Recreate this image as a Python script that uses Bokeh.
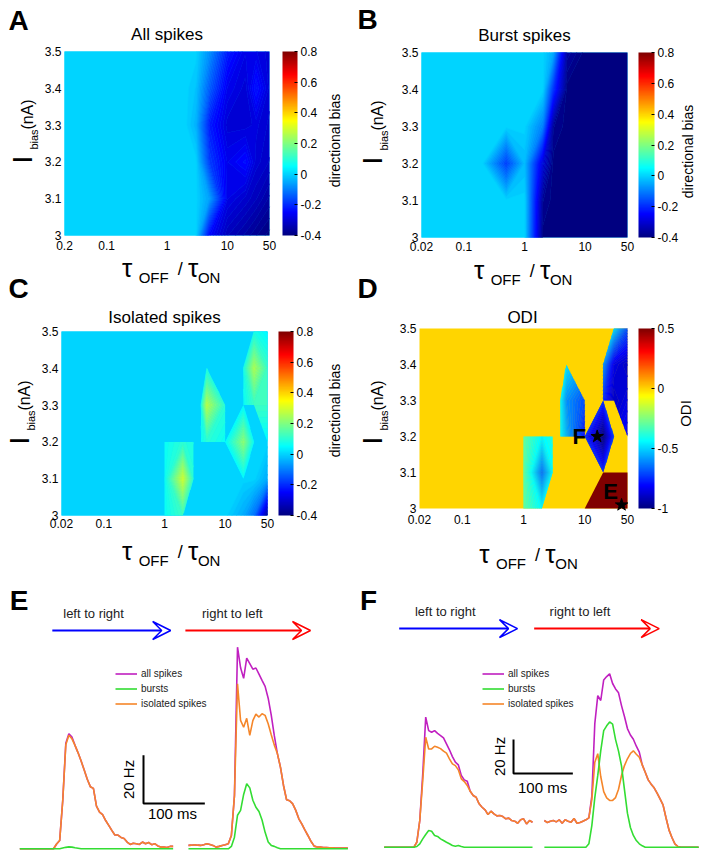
import numpy as np
from bokeh.plotting import figure
from bokeh.layouts import column, row
from bokeh.models import (ColorBar, LinearColorMapper, FixedTicker, Label, Arrow, VeeHead,
                          Legend, LegendItem, Range1d)
from bokeh.core.properties import value
from bokeh.embed import file_html
from bokeh.resources import INLINE

nan = float("nan")
FONT = "Liberation Sans"

# ======================= DATA: parameter maps =======================
tau_ratio = [0.02, 0.05, 0.1, 0.2, 0.5, 1, 2, 3, 5, 10, 20, 30, 50]
i_bias = [3.0, 3.1, 3.2, 3.3, 3.4, 3.5]
tau_ticks = [0.02, 0.1, 1, 10, 50]
tau_ticklabels = ["0.02", "0.1", "1", "10", "50"]
tau_ticklabels_A = ["0.2", "0.1", "1", "10", "50"]
ib_ticks = [3.0, 3.1, 3.2, 3.3, 3.4, 3.5]
ib_ticklabels = ["3", "3.1", "3.2", "3.3", "3.4", "3.5"]

# rows follow i_bias, columns follow tau_ratio
bias_all = [
    [0, 0, 0, 0, 0, 0, 0, 0, -0.25, -0.33, -0.36, -0.38, -0.40],
    [0, 0, 0, 0, 0, 0, 0, 0, -0.06, -0.28, -0.31, -0.33, -0.36],
    [0, 0, 0, 0, 0, 0, 0, 0, -0.18, -0.27, -0.24, -0.30, -0.32],
    [0, 0, 0, 0, 0, 0, 0, -0.04, -0.22, -0.30, -0.30, -0.29, -0.31],
    [0, 0, 0, 0, 0, 0, 0, -0.02, -0.14, -0.27, -0.30, -0.23, -0.30],
    [0, 0, 0, 0, 0, 0, 0, 0, -0.08, -0.22, -0.28, -0.28, -0.30],
]
bias_burst = [
    [0, 0, 0, 0, 0, 0, -0.40, -0.40, -0.40, -0.40, -0.40, -0.40, -0.40],
    [0, 0, 0, 0, 0, 0, -0.38, -0.40, -0.40, -0.40, -0.40, -0.40, -0.40],
    [0, 0, 0, 0, -0.18, -0.03, -0.30, -0.40, -0.40, -0.40, -0.40, -0.40, -0.40],
    [0, 0, 0, 0, 0, 0, -0.10, -0.38, -0.40, -0.40, -0.40, -0.40, -0.40],
    [0, 0, 0, 0, 0, 0, 0, -0.20, -0.40, -0.40, -0.40, -0.40, -0.40],
    [0, 0, 0, 0, 0, 0, 0, -0.05, -0.36, -0.40, -0.40, -0.40, -0.40],
]
bias_isolated = [
    [0, 0, 0, 0, 0, 0, 0, 0, 0, 0, -0.05, -0.12, -0.38],
    [0, 0, 0, 0, 0, 0, 0, 0, 0, 0, 0, 0, -0.05],
    [0, 0, 0, 0, 0, 0, 0, 0, 0, 0, 0, 0, 0],
    [0, 0, 0, 0, 0, 0, 0, 0, 0, 0, 0, 0, 0],
    [0, 0, 0, 0, 0, 0, 0, 0, 0, 0, 0, 0, 0],
    [0, 0, 0, 0, 0, 0, 0, 0, 0, 0, 0, 0, 0],
]
bias_outside = 0.0

# local islands of the isolated-spike map and of the ODI map (NaN = outside)
isl1_tau, isl1_ib = [1, 2, 3], [3.0, 3.1, 3.2]
isl2_tau, isl2_ib = [4, 5, 10], [3.2, 3.3, 3.4]
isl3_tau, isl3_ib = [10, 20, 30], [3.1, 3.2, 3.3]
isl4_tau, isl4_ib = [20, 30, 50], [3.1, 3.2, 3.3, 3.4, 3.5]
isl5_tau, isl5_ib = [10, 20, 50], [3.0, 3.1]

iso_isl1 = [[0.06, 0.12, nan], [0.06, 0.30, 0.10], [0.06, 0.10, 0.08]]
iso_isl2 = [[0.06, 0.10, 0.06], [0.08, 0.27, 0.10], [nan, 0.08, nan]]
iso_isl3 = [[nan, 0.05, nan], [0.05, 0.22, 0.06], [nan, 0.05, nan]]
iso_isl4 = [[nan, nan, nan], [nan, nan, 0.04], [0.06, 0.12, 0.12],
            [0.08, 0.26, 0.12], [nan, 0.08, 0.04]]

odi_outside = 0.0
odi_isl1 = [[-0.30, -0.45, nan], [-0.30, -0.65, -0.45], [-0.30, -0.45, -0.40]]
odi_isl2 = [[-0.45, -0.55, -0.80], [-0.45, -0.60, -0.70], [nan, -0.48, nan]]
odi_isl3 = [[nan, -0.75, nan], [-0.75, -1.00, -0.72], [nan, -0.75, nan]]
odi_isl4 = [[nan, nan, nan], [nan, nan, -0.80], [-0.75, -0.90, -0.85],
            [-0.60, -0.85, -0.90], [nan, -0.50, -0.70]]
odi_isl5 = [[0.5, 0.5, 0.5], [nan, 0.5, 0.5]]

star_tau = [40, 16]
star_ib = [3.01, 3.2]
star_names = ["E", "F"]

# ======================= DATA: PSTHs (Hz, 5 ms bins) =======================
bin_ms = 5
E_right_onset = 275
F_right_onset = 270

E_L_all = [0, 0, 0, 0, 0, 0, 0, 0, 0, 0, 0, 0, 2.0, 3.4, 20.0, 43.7, 47.6, 46.2, 42.8, 39.7,
           36.3, 32.6, 28.8, 25.7, 25.0, 17.7, 15.2, 14.1, 11.7, 9.7, 7.6, 5.7, 5.7, 4.7, 4.3,
           2.8, 1.8, 2.3, 2.1, 1.8, 2.8, 2.1, 2.6, 1.7, 2.1, 1.2, 0.7, 0.7, 0.5, 1.0, 1.0]
E_L_burst = [0, 0, 0, 0, 0, 0, 0, 0, 0, 0, 0, 0, 0, 0, 0.3, 0.6, 0.8, 0.7, 0.4, 0.2,
             0, 0, 0, 0, 0, 0, 0, 0, 0, 0, 0, 0, 0, 0, 0, 0, 0, 0, 0, 0,
             0, 0, 0, 0, 0, 0, 0, 0, 0, 0, 0]
E_L_iso = [0, 0, 0, 0, 0, 0, 0, 0, 0, 0, 0, 0, 2.0, 3.4, 20.0, 43.0, 47.0, 45.5, 42.8, 39.7,
           36.3, 32.6, 28.8, 25.7, 25.0, 17.7, 15.2, 14.1, 11.7, 9.7, 7.6, 5.7, 5.7, 4.7, 4.3,
           2.8, 1.8, 2.3, 2.1, 1.8, 2.8, 2.1, 2.6, 1.7, 2.1, 1.2, 0.7, 0.7, 0.5, 1.0, 1.0]

E_R_all = [1.4, 1.5, 1.7, 1.5, 1.4, 1.7, 2.1, 1.8, 1.4, 0.7, 1.0, 1.4, 1.7, 2.1, 5.5, 22.0,
           83.4, 74.9, 70.5, 78.9, 76.6, 74.3, 74.8, 72.3, 69.7, 67.2, 62.3, 55.3, 46.8, 39.4,
           33.8, 26.2, 20.3, 19.9, 18.6, 15.9, 12.4, 10.2, 7.7, 5.4, 3.0, 1.1, 0.7, 0.7, 0.5,
           0.5, 0.4, 0.4, 0.3, 0.3, 0.3, 0.3, 0.3]
E_R_burst = [0, 0, 0, 0, 0, 0, 0, 0, 0, 0, 0, 0, 0, 0, 1.0, 4.8, 13.9, 15.9, 22.5, 26.9,
             25.2, 20.1, 17.2, 15.4, 11.9, 6.8, 2.8, 1.4, 1.0, 0.4, 0, 0, 0, 0, 0, 0, 0, 0,
             0, 0, 0, 0, 0, 0, 0, 0, 0, 0, 0, 0, 0, 0, 0]
E_R_iso = [1.4, 1.5, 1.7, 1.5, 1.4, 1.7, 2.1, 1.8, 1.4, 0.7, 1.0, 1.4, 1.7, 2.1, 5.5, 22.0,
           68.3, 53.1, 50.3, 54.0, 46.9, 53.0, 55.7, 54.5, 55.9, 55.2, 51.7, 47.2, 42.9, 39.4,
           33.8, 26.2, 20.3, 19.9, 18.6, 15.9, 12.4, 10.2, 7.7, 5.4, 3.0, 1.1, 0.7, 0.7, 0.5,
           0.5, 0.4, 0.4, 0.3, 0.3, 0.3, 0.3, 0.3]

F_L_all = [0, 0, 0, 0, 0, 0, 0, 0, 0, 0, 0, 2.9, 15.7, 43.0, 76.5, 68.6, 67.6, 68.6, 67.0,
           65.7, 64.3, 60.8, 57.3, 53.3, 50.0, 48.4, 42.2, 39.6, 38.8, 32.9, 30.4, 29.4, 25.5,
           23.5, 22.0, 19.2, 21.2, 19.6, 18.4, 18.6, 18.0, 16.7, 17.1, 15.7, 15.3, 14.1, 16.1,
           16.7, 13.7, 15.7, 14.7]
F_L_burst = [0, 0, 0, 0, 0, 0, 0, 0, 0, 0, 0, 0.4, 2.0, 4.9, 7.5, 9.8, 9.4, 6.9, 6.3, 4.9,
             3.9, 2.9, 2.0, 1.0, 0.6, 1.0, 0.4, 0, 0, 0, 0, 0, 0, 0, 0, 0, 0, 0, 0, 0, 0, 0,
             0, 0, 0, 0, 0, 0, 0, 0, 0]
F_L_iso = [0, 0, 0, 0, 0, 0, 0, 0, 0, 0, 0, 2.9, 15.7, 39.2, 64.7, 57.8, 57.8, 59.4, 58.8,
           58.0, 56.5, 55.3, 52.0, 49.0, 48.0, 45.5, 40.2, 38.6, 36.3, 32.9, 30.4, 29.4, 25.5,
           23.5, 22.0, 19.2, 21.2, 19.6, 18.4, 18.6, 18.0, 16.7, 17.1, 15.7, 15.3, 14.1, 16.1,
           16.7, 13.7, 15.7, 14.7]

F_R_all = [15.7, 14.5, 15.3, 15.7, 14.9, 16.1, 14.1, 16.1, 15.3, 14.7, 16.9, 14.1, 14.5, 15.3,
           16.1, 17.3, 30.0, 72.7, 89.2, 86.3, 98.4, 100.4, 102.0, 96.3, 93.1, 90.8, 83.3, 76.9,
           69.8, 66.0, 63.5, 59.4, 55.9, 48.4, 44.1, 39.6, 37.1, 34.9, 31.8, 28.4, 24.9, 17.3,
           10.2, 5.7, 2.0, 0.4, 0, 0, 0, 0, 0, 0, 0]
F_R_burst = [0, 0, 0, 0, 0, 0, 0, 0, 0, 0, 0, 0, 0, 0, 0, 2.0, 12.7, 29.2, 42.2, 56.7, 68.6,
             71.4, 73.7, 72.4, 63.3, 56.5, 47.8, 33.9, 20.0, 11.6, 6.9, 3.9, 2.0, 0.8, 0, 0, 0,
             0, 0, 0, 0, 0, 0, 0, 0, 0, 0, 0, 0, 0, 0, 0, 0]
F_R_iso = [15.7, 14.5, 15.3, 15.7, 14.9, 16.1, 14.1, 16.1, 15.3, 14.7, 16.9, 14.1, 14.5, 15.3,
           16.1, 17.3, 28.0, 50.0, 55.0, 41.6, 32.7, 29.0, 27.5, 27.5, 29.2, 34.1, 42.2, 48.0,
           52.0, 55.1, 56.7, 54.7, 52.9, 48.4, 44.1, 39.6, 37.1, 34.9, 31.8, 28.4, 24.9, 17.3,
           10.2, 5.7, 2.0, 0.4, 0, 0, 0, 0, 0, 0, 0]

scale_hz = 20
scale_ms = 100

# ======================= helpers =======================
def jet(f):
    f = min(max(f, 0.0), 1.0)
    r = min(max(1.5 - abs(4 * f - 3), 0), 1)
    g = min(max(1.5 - abs(4 * f - 2), 0), 1)
    b = min(max(1.5 - abs(4 * f - 1), 0), 1)
    return "#%02x%02x%02x" % (round(r * 255), round(g * 255), round(b * 255))


JET256 = [jet(i / 255) for i in range(256)]


def band_levels(lo, hi, n=96):
    step = (hi - lo) / n
    levels = [lo - step / 2 + k * step for k in range(n + 2)]
    fills = [jet(k / n) for k in range(n + 1)]
    lines = [jet((lv - lo) / (hi - lo)) for lv in levels]
    return levels, fills, lines


def lab(p, x, y, text, size, angle=0, bold=False, dx=0, dy=0, align="center",
        baseline="middle", color="black"):
    p.add_layout(Label(x=x, y=y, x_offset=dx, y_offset=dy, text=text, text_font=FONT,
                       text_font_size=f"{size}px",
                       text_font_style="bold" if bold else "normal",
                       text_color=color, angle=angle, angle_units="deg",
                       text_align=align, text_baseline=baseline))


TAU_LIM = (min(tau_ratio), max(tau_ratio))
IB_LIM = (min(i_bias), max(i_bias))


class HeatPanel:
    """A figure whose frame is the whole canvas; x = log10(tau ratio), y = I_bias."""

    def __init__(self, canvas, heat):
        self.cx, self.cy, self.cw, self.ch = canvas
        self.L, self.T, self.W, self.H = heat
        lx0, lx1 = np.log10(TAU_LIM[0]), np.log10(TAU_LIM[1])
        self.ppx = self.W / (lx1 - lx0)
        self.ppy = self.H / (IB_LIM[1] - IB_LIM[0])
        self.x0 = lx0 - (self.L - self.cx) / self.ppx
        self.y0 = IB_LIM[0] - (self.cy + self.ch - (self.T + self.H)) / self.ppy
        p = figure(width=self.cw, height=self.ch, title=None,
                   x_range=Range1d(self.x0, self.x0 + self.cw / self.ppx),
                   y_range=Range1d(self.y0, self.y0 + self.ch / self.ppy),
                   output_backend="svg", toolbar_location=None, min_border=0,
                   x_axis_location=None, y_axis_location=None)
        p.outline_line_color = None
        p.grid.visible = False
        self.p = p

    def d(self, px, py):
        return (self.x0 + (px - self.cx) / self.ppx,
                self.y0 + (self.cy + self.ch - py) / self.ppy)

    def txt(self, px, py, text, size, **kw):
        x, y = self.d(px, py)
        lab(self.p, x, y, text, size, **kw)

    def base(self, color):
        self.p.quad(left=[np.log10(TAU_LIM[0])], right=[np.log10(TAU_LIM[1])],
                    bottom=[IB_LIM[0]], top=[IB_LIM[1]], fill_color=color, line_color=None)

    def field(self, tau, ib, z, lo, hi):
        X, Y = np.meshgrid(np.log10(np.array(tau, dtype=float)), np.array(ib, dtype=float))
        Z = np.array(z, dtype=float)
        levels, fills, lines = band_levels(lo, hi)
        self.p.contour(X, Y, Z, levels, fill_color=fills, line_color=lines, line_width=0.8)

    def ticks(self, xlabels, xlab_dy):
        _, yb = self.d(0, self.T + self.H + xlab_dy)
        self.p.text(x=list(np.log10(tau_ticks)), y=[yb] * len(tau_ticks), text=xlabels,
                    text_align="center", text_baseline="middle", text_font=value(FONT),
                    text_font_size=value("12px"), text_color="black")
        xl, _ = self.d(self.L - 3, 0)
        self.p.text(x=[xl] * len(ib_ticks), y=ib_ticks, text=ib_ticklabels,
                    text_align="right", text_baseline="middle", text_font=value(FONT),
                    text_font_size=value("12px"), text_color="black")

    def cbar(self, lo, hi, ticks, labels, gap, bw):
        cm = LinearColorMapper(palette=JET256, low=lo, high=hi)
        cb = ColorBar(color_mapper=cm,
                      location=(self.L - self.cx + self.W + gap,
                                self.cy + self.ch - (self.T + self.H)),
                      width=bw, height=self.H, padding=0, margin=0,
                      ticker=FixedTicker(ticks=ticks),
                      major_label_overrides=dict(zip(ticks, labels)),
                      major_label_text_font=FONT, major_label_text_font_size="12px",
                      major_label_text_color="black", label_standoff=3,
                      major_tick_line_color="black", major_tick_in=3, major_tick_out=0,
                      bar_line_color=None, border_line_color=None, background_fill_alpha=0)
        self.p.add_layout(cb)

    def axis_titles(self, ix, iy, tx, ty):
        self.txt(ix, iy, "I", 28, angle=90)
        self.txt(ix + 11, iy - 20, "bias", 11, angle=90)
        self.txt(ix + 5, iy - 45, "(nA)", 16, angle=90)
        self.txt(tx, ty, "τ", 26)
        self.txt(tx + 26.5, ty + 10, "OFF", 15)
        self.txt(tx + 53, ty + 1, "/", 18)
        self.txt(tx + 66, ty, "τ", 26)
        self.txt(tx + 82, ty + 10, "ON", 15)


bias_ticks = [-0.4, -0.2, 0.0, 0.2, 0.4, 0.6, 0.8]
bias_tlabels = ["-0.4", "-0.2", "0", "0.2", "0.4", "0.6", "0.8"]
odi_ticks = [-1.0, -0.5, 0.0, 0.5]
odi_tlabels = ["-1", "-0.5", "0", "0.5"]
BIAS_LO, BIAS_HI = -0.4, 0.8
ODI_LO, ODI_HI = -1.0, 0.5

ROW1_H = 306
ROW2_H = 580 - ROW1_H

# ======================= A =======================
A = HeatPanel((0, 0, 352, ROW1_H), (64, 51, 205, 184))
A.base(jet((bias_outside - BIAS_LO) / (BIAS_HI - BIAS_LO)))
A.field(tau_ratio, i_bias, bias_all, BIAS_LO, BIAS_HI)
A.ticks(tau_ticklabels_A, 10)
A.cbar(BIAS_LO, BIAS_HI, bias_ticks, bias_tlabels, 13, 15)
A.txt(18, 20, "A", 28, bold=True)
A.txt(166.5, 34, "All spikes", 17)
A.axis_titles(22, 159, 126.7, 267)
A.txt(334, 140, "directional bias", 14, angle=90)
A.txt(18, 288, "C", 28, bold=True)          # letter of the panel below

# ======================= B =======================
B = HeatPanel((352, 0, 352, ROW1_H), (421, 52, 206, 185))
B.base(jet((bias_outside - BIAS_LO) / (BIAS_HI - BIAS_LO)))
B.field(tau_ratio, i_bias, bias_burst, BIAS_LO, BIAS_HI)
B.ticks(tau_ticklabels, 9)
B.cbar(BIAS_LO, BIAS_HI, bias_ticks, bias_tlabels, 11, 16)
B.txt(367, 19, "B", 28, bold=True)
B.txt(524, 35, "Burst spikes", 17)
B.axis_titles(372, 160, 478.7, 269)
B.txt(687, 151, "directional bias", 14, angle=90)
B.txt(367, 288, "D", 28, bold=True)         # letter of the panel below

# ======================= C =======================
C = HeatPanel((0, ROW1_H, 352, ROW2_H), (61, 331, 206, 184))
C.base(jet((bias_outside - BIAS_LO) / (BIAS_HI - BIAS_LO)))
C.field(tau_ratio, i_bias, bias_isolated, BIAS_LO, BIAS_HI)
C.field(isl1_tau, isl1_ib, iso_isl1, BIAS_LO, BIAS_HI)
C.field(isl2_tau, isl2_ib, iso_isl2, BIAS_LO, BIAS_HI)
C.field(isl3_tau, isl3_ib, iso_isl3, BIAS_LO, BIAS_HI)
C.field(isl4_tau, isl4_ib, iso_isl4, BIAS_LO, BIAS_HI)
C.ticks(tau_ticklabels, 8)
C.cbar(BIAS_LO, BIAS_HI, bias_ticks, bias_tlabels, 11, 15)
C.txt(164, 317, "Isolated spikes", 17)
C.axis_titles(19, 440, 126.7, 550)
C.txt(334, 410, "directional bias", 14, angle=90)

# ======================= D =======================
D = HeatPanel((352, ROW1_H, 352, ROW2_H), (419, 328, 208, 180))
D.base(jet((odi_outside - ODI_LO) / (ODI_HI - ODI_LO)))
D.field(isl1_tau, isl1_ib, odi_isl1, ODI_LO, ODI_HI)
D.field(isl2_tau, isl2_ib, odi_isl2, ODI_LO, ODI_HI)
D.field(isl3_tau, isl3_ib, odi_isl3, ODI_LO, ODI_HI)
D.field(isl4_tau, isl4_ib, odi_isl4, ODI_LO, ODI_HI)
D.field(isl5_tau, isl5_ib, odi_isl5, ODI_LO, ODI_HI)
D.p.scatter(list(np.log10(star_tau)), star_ib, marker="star", size=13, color="black")
lab(D.p, float(np.log10(star_tau[0])), star_ib[0], star_names[0], 22, bold=True, dx=-11, dy=13)
lab(D.p, float(np.log10(star_tau[1])), star_ib[1], star_names[1], 22, bold=True, dx=-18, dy=0)
D.ticks(tau_ticklabels, 11)
D.cbar(ODI_LO, ODI_HI, odi_ticks, odi_tlabels, 11, 16)
D.txt(522, 317, "ODI", 17)
D.axis_titles(372, 440, 484, 553)
D.txt(685, 413, "ODI", 15, angle=90)

# ======================= E / F traces =======================
C_ALL, C_BURST, C_ISO = "#c020c0", "#33dd33", "#f5862a"


def trace_panel(xr, yr):
    p = figure(width=352, height=274, x_range=Range1d(*xr), y_range=Range1d(*yr),
               output_backend="svg", toolbar_location=None, min_border=0, title=None,
               x_axis_location=None, y_axis_location=None)
    p.outline_line_color = None
    p.grid.visible = False
    return p


def draw_traces(p, onset_r, L_all, L_burst, L_iso, R_all, R_burst, R_iso):
    tl = [bin_ms * i for i in range(len(L_all))]
    tr = [onset_r + bin_ms * j for j in range(len(R_all))]
    ra = p.line(tl, L_all, color=C_ALL, line_width=1.6)
    p.line(tr, R_all, color=C_ALL, line_width=1.6)
    ri = p.line(tl, L_iso, color=C_ISO, line_width=1.6)
    p.line(tr, R_iso, color=C_ISO, line_width=1.6)
    rb = p.line(tl, L_burst, color=C_BURST, line_width=1.6)
    p.line(tr, R_burst, color=C_BURST, line_width=1.6)
    return ra, rb, ri


def legend_for(p, ra, rb, ri, loc):
    leg = Legend(items=[LegendItem(label="all spikes", renderers=[ra]),
                        LegendItem(label="bursts", renderers=[rb]),
                        LegendItem(label="isolated spikes", renderers=[ri])],
                 location=loc, padding=0, margin=0, spacing=0, glyph_width=22,
                 glyph_height=15, label_height=15, label_standoff=4,
                 border_line_color=None, background_fill_alpha=0,
                 label_text_font=FONT, label_text_font_size="10px",
                 label_text_color="#222222")
    p.add_layout(leg)


def arrows(p, y, blue, red):
    for (xs, xe), c in ((blue, "#0000ff"), (red, "#ff0000")):
        p.add_layout(Arrow(x_start=xs, y_start=y, x_end=xe, y_end=y, line_color=c,
                           line_width=2,
                           end=VeeHead(size=18, line_color=c, line_width=1.5,
                                       fill_color=None)))


def scalebar(p, t0, h0, lab_t, lab_y, hz_lab_t):
    p.line([t0, t0, t0 + scale_ms], [h0 + scale_hz, h0, h0], color="black", line_width=2)
    lab(p, hz_lab_t, h0 + scale_hz / 2, f"{scale_hz} Hz", 15, angle=90)
    lab(p, lab_t, lab_y, f"{scale_ms} ms", 15)


# E : t(ms) -> px = 19.3 + 0.6133 t ; Hz -> py = 848.3 - 2.417 Hz
pE = trace_panel((-31.5, 542.5), (-2.36, 111.0))
ra, rb, ri = draw_traces(pE, E_right_onset, E_L_all, E_L_burst, E_L_iso,
                         E_R_all, E_R_burst, E_R_iso)
legend_for(pE, ra, rb, ri, (115, 143.5))
arrows(pE, 90.3, (53, 246), (270, 474))
lab(pE, 120.3, 97.4, "left to right", 13, color="#222222")
lab(pE, 346.5, 97.4, "right to left", 13, color="#222222")
scalebar(pE, 201.7, 18.7, 249, 14.6, 177)
lab(pE, -1.0, 102.7, "E", 28, bold=True)

# F : t(ms) -> px = 383.7 + 0.5933 t ; Hz -> py = 846.7 - 1.7 Hz
pF = trace_panel((-53.4, 539.9), (-4.3, 156.9))
ra, rb, ri = draw_traces(pF, F_right_onset, F_L_all, F_L_burst, F_L_iso,
                         F_R_all, F_R_burst, F_R_iso)
legend_for(pF, ra, rb, ri, (130, 143.5))
arrows(pF, 128.6, (25.3, 224.7), (252.8, 463.5))
lab(pF, 103, 138.6, "left to right", 13, color="#222222")
lab(pF, 330, 138.6, "right to left", 13, color="#222222")
scalebar(pF, 218, 43.4, 267, 35.1, 194)
lab(pF, -26.5, 145.1, "F", 28, bold=True)

layout = column(row(A.p, B.p), row(C.p, D.p), row(pE, pF))
open("out.html", "w").write(file_html(layout, INLINE, title="Directional bias"))
